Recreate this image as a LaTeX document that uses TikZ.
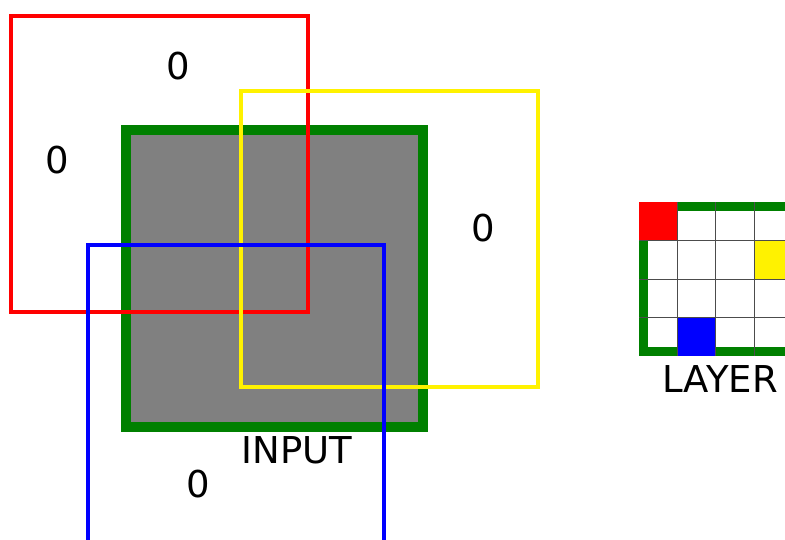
\documentclass[tikz,border=0pt]{standalone}
\usepackage{fontspec}
\setmainfont{DejaVu Sans}
\begin{document}
\begin{tikzpicture}[x=1pt,y=-1pt,
  lbl/.style={inner sep=0pt,anchor=center,font=\fontsize{37}{43}\selectfont},
  frame/.style={line width=4pt},
  cellgrid/.style={draw=black!70,line width=0.8pt}]
\useasboundingbox (0,0) rectangle (785,539);
\begin{scope}
\clip (0,0) rectangle (785,539);
% input block
\draw[draw={rgb,255:red,0;green,128;blue,0},fill={rgb,255:red,128;green,128;blue,128},line width=9.5pt]
  (126,130) rectangle (423,427);
% receptive-field windows
\draw[frame,red] (11,15.5) rectangle (308,312);
\draw[frame,yellow] (241,91) rectangle (538,387);
\draw[frame,blue] (88,245) rectangle (384,560);
% layer grid
\fill[white] (639.3,202.3) rectangle (795,355.7);
\draw[draw={rgb,255:red,0;green,128;blue,0},line width=9pt]
  (643.8,206.8) rectangle (791,351.2);
\fill[red] (639.3,202.3) rectangle (677,240.6);
\fill[yellow] (754.5,240.6) rectangle (795,279);
\fill[blue] (677,317.3) rectangle (715.8,355.7);
\foreach \x in {677,715.8,754.5} \draw[cellgrid] (\x,202.3) -- (\x,355.7);
\foreach \y in {240.6,279,317.3} \draw[cellgrid] (639.3,\y) -- (795,\y);
\end{scope}
% labels
\node[lbl] (z1) at (178.5,66) {0};
\node[lbl] (z2) at (57.5,160.5) {0};
\node[lbl] (z3) at (483,228) {0};
\node[lbl] (z4) at (198,484) {0};
\node[lbl] (inp) at (297,450) {INPUT};
\node[lbl] (lay) at (720,379) {LAYER};
\end{tikzpicture}
\end{document}
